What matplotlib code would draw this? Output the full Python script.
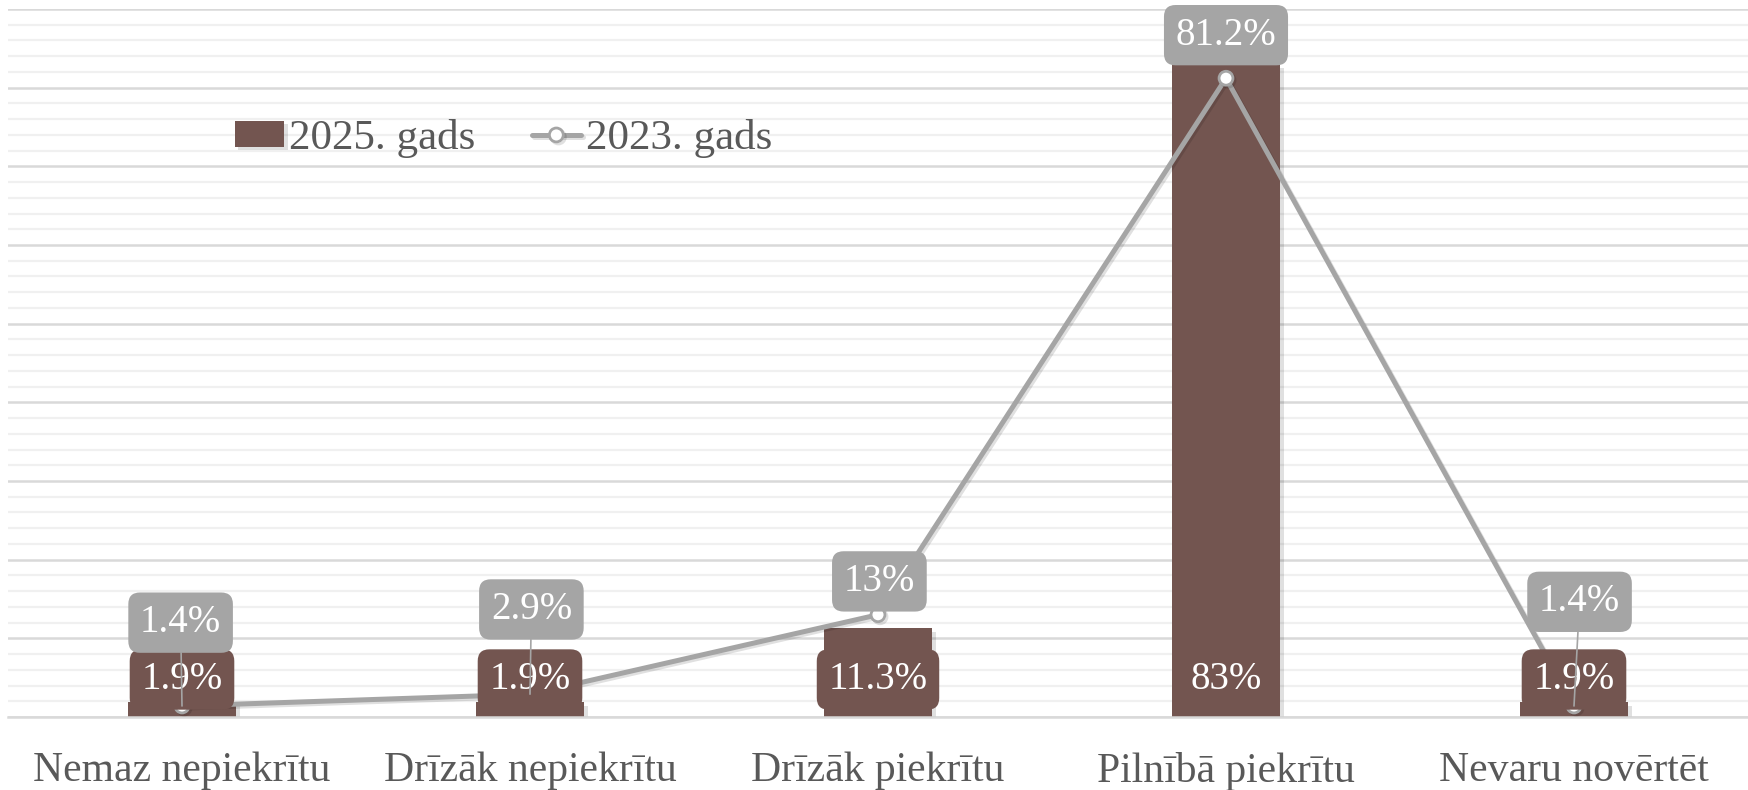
import matplotlib
matplotlib.use("Agg")
import matplotlib.pyplot as plt
import matplotlib.patheffects as pe
import numpy as np

plt.rcParams["font.family"] = "serif"
plt.rcParams["font.serif"] = ["Liberation Serif", "DejaVu Serif"]

# data
categories = ["Nemaz nepiekrītu", "Drīzāk nepiekrītu", "Drīzāk piekrītu",
              "Pilnībā piekrītu", "Nevaru novērtēt"]
values_2025 = [1.9, 1.9, 11.3, 83, 1.9]
values_2023 = [1.4, 2.9, 13, 81.2, 1.4]
labels_2025 = ["1.9%", "1.9%", "11.3%", "83%", "1.9%"]
labels_2023 = ["1.4%", "2.9%", "13%", "81.2%", "1.4%"]

# layout of the 2023 data labels (offset in points from the marker)
label_offsets_2023 = [(-1, 60), (1, 61), (1, 24), (0, 31), (4, 75)]
label_leaders_2023 = [True, True, False, False, True]

bar_color = "#735550"
line_color = "#A5A5A5"
text_color = "#595959"

fig = plt.figure(figsize=(17.48, 7.90), dpi=100)
ax = fig.add_axes([8 / 1748, 73 / 790, 1740 / 1748, 708 / 790])

x = np.arange(len(categories))

ax.set_ylim(0, 90)
ax.set_xlim(-0.5, len(categories) - 0.5)
ax.set_yticks(np.arange(0, 91, 10))
ax.set_yticks(np.arange(0, 91, 2), minor=True)
ax.grid(axis="y", which="major", color="#D9D9D9", lw=1.8, zorder=0)
ax.grid(axis="y", which="minor", color="#F0F0F0", lw=1.6, zorder=0)
ax.set_axisbelow(True)
ax.tick_params(axis="y", which="both", left=False, labelleft=False)
ax.tick_params(axis="x", length=0, pad=25, labelsize=30, labelcolor=text_color)
for s in ["top", "left", "right"]:
    ax.spines[s].set_visible(False)
ax.spines["bottom"].set_color("#D9D9D9")
ax.spines["bottom"].set_linewidth(1.8)

shadow = [pe.SimplePatchShadow(offset=(2.5, -2.5), alpha=0.12, shadow_rgbFace="black"), pe.Normal()]
bars = ax.bar(x, values_2025, width=0.313, color=bar_color, zorder=2)
for b in bars:
    b.set_path_effects(shadow)

line, = ax.plot(x, values_2023, color=line_color, lw=3.6, marker="o", ms=10,
                mfc="white", mec=line_color, mew=2, zorder=3,
                solid_capstyle="round")
line.set_path_effects([pe.SimpleLineShadow(offset=(1.5, -1.5), alpha=0.12, shadow_color="black"),
                       pe.Normal()])

ax.set_xticks(x)
ax.set_xticklabels(categories)

# 2025 labels, inside the base of each bar
for i, lab in enumerate(labels_2025):
    ax.annotate(lab, xy=(i, 0), xytext=(0, 27), textcoords="offset points",
                ha="center", va="center", fontsize=28, color="white", zorder=4,
                bbox=dict(boxstyle="round,pad=0.3,rounding_size=0.3",
                          fc=bar_color, ec="none"))

# 2023 labels, above the markers
for i, lab in enumerate(labels_2023):
    dx, dy = label_offsets_2023[i]
    arrow = None
    if label_leaders_2023[i]:
        arrow = dict(arrowstyle="-", color=line_color, lw=1.2, shrinkA=0, shrinkB=0)
    ax.annotate(lab, xy=(i, values_2023[i]), xytext=(dx, dy), textcoords="offset points",
                ha="center", va="center", fontsize=28, color="white", zorder=5,
                arrowprops=arrow,
                bbox=dict(boxstyle="round,pad=0.3,rounding_size=0.3",
                          fc=line_color, ec="none"))

leg = ax.legend([bars, line], ["2025. gads", "2023. gads"],
                loc="center left", bbox_to_anchor=(0.108, 0.817), ncol=2,
                frameon=False, fontsize=31, handlelength=1.15, handleheight=0.55,
                handletextpad=0.12, columnspacing=1.3)
for t in leg.get_texts():
    t.set_color(text_color)

fig.savefig("out.png", dpi=100)
